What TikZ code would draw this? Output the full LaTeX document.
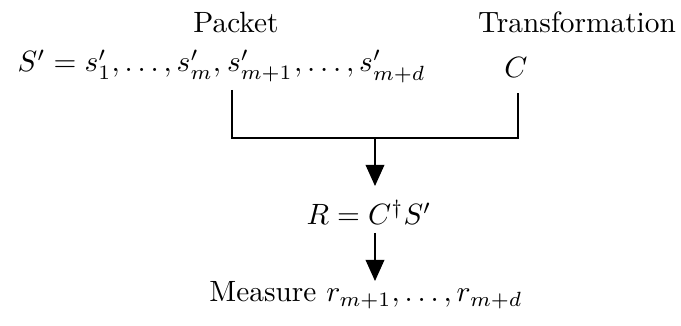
\documentclass[tikz,border=0pt]{standalone}
\usetikzlibrary{arrows.meta}
\begin{document}
\begin{tikzpicture}[x=0.3407pt,y=-0.3407pt,
  conn/.style={line width=0.4pt},
  arr/.style={conn,-{Triangle[width=6.4pt,length=7.2pt]}},
  lbl/.style={inner sep=0pt, anchor=base}]
\useasboundingbox (0,0) rectangle (681,326);
\node[lbl] (packet) at (236,33) {Packet};
\node[lbl] (transf) at (577,33) {Transformation};
\node[lbl, anchor=base west] (seqa) at (17,72) {$S' = s'_1,\ldots,s'_m,$};
\node[lbl, anchor=base west] (seqb) at ([xshift=1.667pt]seqa.base east) {$s'_{m+1}$};
\node[lbl, anchor=base west] (seqc) at (seqb.base east) {$,\ldots,s'_{m+d}$};
\node[lbl] (C) at (516,78) {$C$};
\coordinate (pk) at (232,90);
\coordinate (ck) at (518,93);
\coordinate (join) at (375,138);
\draw[conn] (pk) |- (join) -| (ck);
\node[lbl] (R) at (369,225) {$R = C^\dagger S'$};
\coordinate (rtop) at (375,186);
\coordinate (rbot) at (375,233);
\draw[arr] (join) -- (rtop);
\node[lbl] (meas) at (366,302) {Measure $r_{m+1},\ldots,r_{m+d}$};
\coordinate (mtop) at (375,281);
\draw[arr] (rbot) -- (mtop);
\end{tikzpicture}
\end{document}
